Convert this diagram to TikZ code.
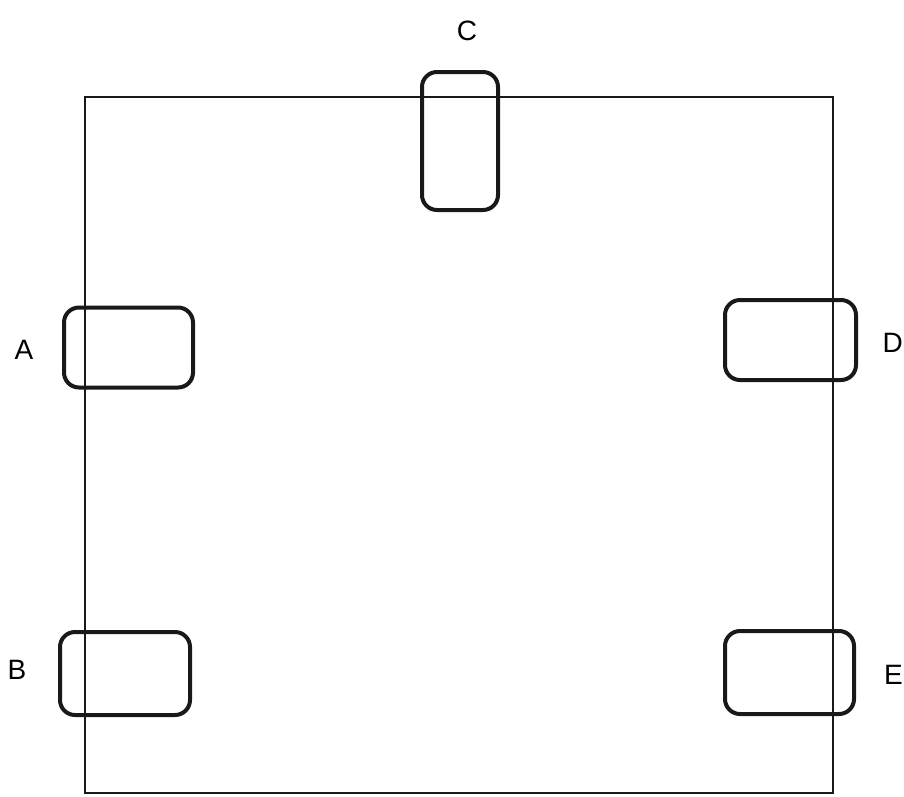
\documentclass[tikz,border=0pt]{standalone}
\usepackage{fontspec}
\setmainfont{Liberation Sans}
\begin{document}
\begin{tikzpicture}[x=1pt,y=-1pt,
  wheel/.style={draw=black!90,line width=4pt,rounded corners=15pt,fill=none,inner sep=0pt},
  frame/.style={draw=black!90,line width=2pt},
  lbl/.style={font=\fontsize{28}{32}\selectfont,inner sep=0pt}]
\useasboundingbox (0,0) rectangle (904,796);
\fill[white] (0,0) rectangle (904,796);
\coordinate (tl) at (85,97);
\coordinate (br) at (833,793);
\draw[frame] (tl) rectangle (br);
\node[wheel,minimum width=129pt,minimum height=80pt] (A) at (128.5,347.5) {};
\node[wheel,minimum width=130pt,minimum height=83pt] (B) at (125,673.5) {};
\node[wheel,minimum width=76pt,minimum height=138pt] (C) at (460,141) {};
\node[wheel,minimum width=131pt,minimum height=80pt] (D) at (790.5,340) {};
\node[wheel,minimum width=129pt,minimum height=83pt] (E) at (789.5,672.5) {};
\node[lbl] (la) at (24,350) {A};
\node[lbl] (lb) at (17,670) {B};
\node[lbl] (lc) at (467,31) {C};
\node[lbl,anchor=east] (ld) at (903,343) {D};
\node[lbl,anchor=east] (le) at (903,675) {E};
\end{tikzpicture}
\end{document}
